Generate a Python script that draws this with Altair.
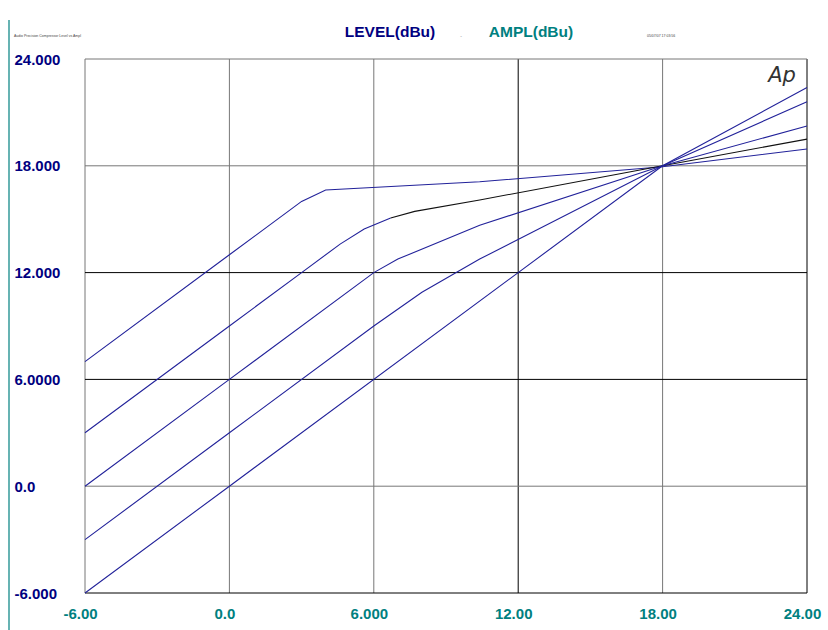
import altair as alt
import pandas as pd

# ---- data ----
l1_x = [-6, 0, 3, 4, 10.4, 18, 24]
l1_y = [7, 13, 16, 16.64, 17.1, 17.95, 18.94]
l2a_x = [-6, 0, 3, 4.6, 5.6, 6.7]
l2a_y = [3, 9, 12, 13.6, 14.45, 15.07]
l2b_x = [6.7, 7.7, 10.4, 18, 24]
l2b_y = [15.07, 15.44, 16.08, 18, 19.5]
l3_x = [-6, 0, 6, 7, 10.4, 18, 24]
l3_y = [0, 6, 12, 12.76, 14.66, 18, 20.24]
l4_x = [-6, 0, 6, 8, 10.4, 18, 24]
l4_y = [-3, 3, 9, 10.9, 12.76, 18, 21.6]
l5_x = [-6, 0, 12, 18, 24]
l5_y = [-6, 0, 12, 18, 22.4]

series = [("s1", l1_x, l1_y), ("s2a", l2a_x, l2a_y), ("s2b", l2b_x, l2b_y),
          ("s3", l3_x, l3_y), ("s4", l4_x, l4_y), ("s5", l5_x, l5_y)]
series_names = ["s1", "s2a", "s2b", "s3", "s4", "s5"]
series_colors = ["#22229a", "#22229a", "#111111", "#22229a", "#22229a", "#22229a"]

grid_vals = [-6, 0, 6, 12, 18, 24]
vgrid_colors = ["#777777", "#777777", "#777777", "#000000", "#777777", "#000000"]
hgrid_colors = ["#000000", "#777777", "#000000", "#000000", "#777777", "#777777"]

x_labels = ["-6.00", "0.0", "6.000", "12.00", "18.00", "24.00"]
y_labels = ["-6.000", "0.0", "6.0000", "12.000", "18.000", "24.000"]

rows = []
for name, xs, ys in series:
    for i, (xv, yv) in enumerate(zip(xs, ys)):
        rows.append({"series": name, "x": xv, "y": yv, "ord": i})
df = pd.DataFrame(rows)

vg = pd.DataFrame({"v": grid_vals, "c": vgrid_colors})
hg = pd.DataFrame({"v": grid_vals, "c": hgrid_colors})

W, H = 722, 534
FONT = "Liberation Sans"

xscale = alt.Scale(domain=[-6, 24], nice=False, zero=False)
yscale = alt.Scale(domain=[-6, 24], nice=False, zero=False)


def lab_expr(vals, labs):
    parts = " : ".join(f"datum.value == {v} ? '{l}'" for v, l in zip(vals, labs))
    return parts + " : ''"


xaxis = alt.Axis(values=grid_vals, labelExpr=lab_expr(grid_vals, x_labels), grid=False,
                 domain=False, ticks=False, title=None, labelFont=FONT, labelFontSize=15,
                 labelFontWeight="bold", labelColor="#008080", labelPadding=20,
                 labelFlush=False, labelBaseline="middle", labelOffset=-5)
yaxis = alt.Axis(values=grid_vals, labelExpr=lab_expr(grid_vals, y_labels), grid=False,
                 domain=False, ticks=False, title=None, labelFont=FONT, labelFontSize=15,
                 labelFontWeight="bold", labelColor="#000080", labelPadding=71,
                 labelAlign="left", labelFlush=False, labelBaseline="middle")

vrules = alt.Chart(vg).mark_rule(strokeWidth=1).encode(
    x=alt.X("v:Q", scale=xscale, axis=xaxis),
    color=alt.Color("c:N", scale=None),
)
hrules = alt.Chart(hg).mark_rule(strokeWidth=1).encode(
    y=alt.Y("v:Q", scale=yscale, axis=yaxis),
    color=alt.Color("c:N", scale=None),
)

lines = alt.Chart(df).mark_line(strokeWidth=1.1).encode(
    x=alt.X("x:Q", scale=xscale, axis=xaxis),
    y=alt.Y("y:Q", scale=yscale, axis=yaxis),
    color=alt.Color("series:N", scale=alt.Scale(domain=series_names, range=series_colors),
                    legend=None),
    order="ord:Q",
)

teal = alt.Chart(pd.DataFrame({"a": [0]})).mark_rule(color="#008080", strokeWidth=1.2).encode(
    x=alt.value(-76), y=alt.value(-39), y2=alt.value(571))

def txt(text, x, y, size, color, weight="normal", style="normal", font=FONT, align="center"):
    return alt.Chart(pd.DataFrame({"a": [0]})).mark_text(
        text=text, fontSize=size, color=color, fontWeight=weight, fontStyle=style,
        font=font, align=align, baseline="middle").encode(x=alt.value(x), y=alt.value(y))

t1 = txt("LEVEL(dBu)", 305, -27, 15.5, "#000080", "bold")
t2 = txt("AMPL(dBu)", 446, -27, 15.5, "#008080", "bold")
t3 = txt("-", 376, -23, 5, "#888888")
t4 = txt("Audio Precision  Compressor Level vs Ampl", -71, -23, 3.5, "#444444", align="left")
t5 = txt("05/07/07 17:03:56", 562, -23, 3.5, "#444444", align="left")
logo = txt("Ap", 697, 17, 21, "#333333", 200, "italic", font="DejaVu Sans")

chart = alt.layer(vrules, hrules, lines, teal, t1, t2, t3, t4, t5, logo).properties(
    width=W, height=H,
    autosize=alt.AutoSizeParams(type="none"),
    padding={"left": 85, "top": 59, "right": 21, "bottom": 37},
    background="white",
).configure_view(stroke=None)

chart.save("out.html", embed_options={"renderer": "svg", "actions": False})
